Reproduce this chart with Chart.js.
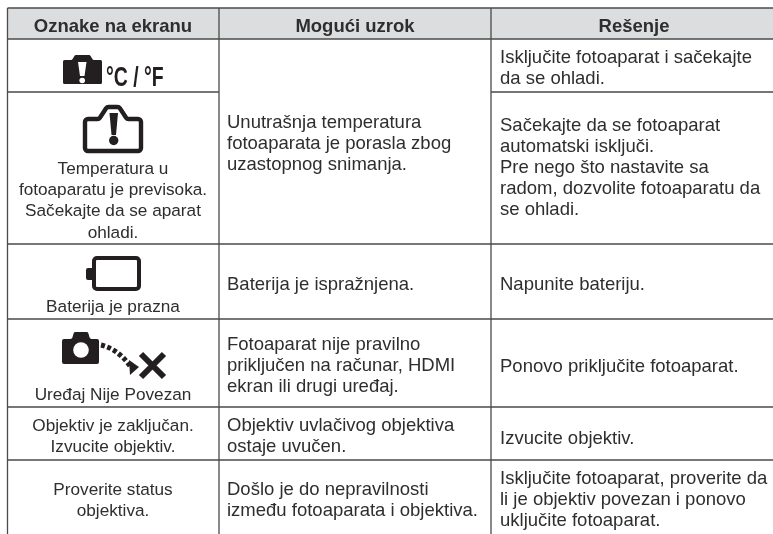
<!DOCTYPE html>
<html>
<head>
<meta charset="utf-8">
<script src="https://cdn.jsdelivr.net/npm/chart.js@4"></script>
<style>
html, body { margin: 0; padding: 0; background: #fff; }
canvas { display: block; }
</style>
</head>
<body>
<canvas id="tableChart" width="773" height="534"></canvas>
<script>
const headers = ['Oznake na ekranu', 'Mogući uzrok', 'Rešenje'];

const displayLines = [
    [],
    ['Temperatura u', 'fotoaparatu je previsoka.', 'Sačekajte da se aparat', 'ohladi.'],
    ['Baterija je prazna'],
    ['Uređaj Nije Povezan'],
    ['Objektiv je zaključan.', 'Izvucite objektiv.'],
    ['Proverite status', 'objektiva.']
];

const causeLines = [
    ['Unutrašnja temperatura', 'fotoaparata je porasla zbog', 'uzastopnog snimanja.'],
    ['Baterija je ispražnjena.'],
    ['Fotoaparat nije pravilno', 'priključen na računar, HDMI', 'ekran ili drugi uređaj.'],
    ['Objektiv uvlačivog objektiva', 'ostaje uvučen.'],
    ['Došlo je do nepravilnosti', 'između fotoaparata i objektiva.']
];

const solutionLines = [
    ['Isključite fotoaparat i sačekajte', 'da se ohladi.'],
    ['Sačekajte da se fotoaparat', 'automatski isključi.', 'Pre nego što nastavite sa', 'radom, dozvolite fotoaparatu da', 'se ohladi.'],
    ['Napunite bateriju.'],
    ['Ponovo priključite fotoaparat.'],
    ['Izvucite objektiv.'],
    ['Isključite fotoaparat, proverite da', 'li je objektiv povezan i ponovo', 'uključite fotoaparat.']
];

// layout of the table, in page units
const colEdges = [7.5, 219, 491, 773];
const rowEdges = [8, 39, 92, 244, 319, 407, 460];
const bottomEdge = 534;
const headerCenters = [113, 355, 634];
const headerBaseline = 31.5;
const col1Center = 113;
const col2Left = 227;
const col3Left = 500;
const lineGap = 21.2;
const col1Baselines = [0, 174, 311.7, 400, 431, 495];
const col2Baselines = [127.5, 290, 350, 431, 495];
const col3Baselines = [63, 130.5, 290, 372, 443.5, 484];

const textColor = '#2f2e2f';
const lineColor = '#4a4a4a';
const headerFill = '#dcddde';
const bodyFont = '18.5px "Liberation Sans", Arial, sans-serif';
const col1Font = '17.2px "Liberation Sans", Arial, sans-serif';
const headFont = 'bold 18.5px "Liberation Sans", Arial, sans-serif';

const tablePlugin = {
    id: 'tablePlugin',
    beforeDraw(chart) {
        const {ctx, scales: {x, y}} = chart;
        const px = v => x.getPixelForValue(v);
        const py = v => y.getPixelForValue(v);

        ctx.save();
        ctx.fillStyle = '#fff';
        ctx.fillRect(0, 0, chart.width, chart.height);
        ctx.fillStyle = headerFill;
        ctx.fillRect(px(colEdges[0]), py(rowEdges[0]), px(colEdges[3]) - px(colEdges[0]), py(rowEdges[1]) - py(rowEdges[0]));

        ctx.strokeStyle = lineColor;
        ctx.lineWidth = 1.3;
        rowEdges.forEach((r, i) => {
            // the cause cell spans the first two rows
            ctx.beginPath();
            ctx.moveTo(px(colEdges[0]), py(r));
            if (i === 2) {
                ctx.lineTo(px(colEdges[1]), py(r));
                ctx.moveTo(px(colEdges[2]), py(r));
            }
            ctx.lineTo(px(colEdges[3]), py(r));
            ctx.stroke();
        });
        colEdges.slice(0, 3).forEach(c => {
            ctx.beginPath();
            ctx.moveTo(px(c), py(rowEdges[0]));
            ctx.lineTo(px(c), py(bottomEdge));
            ctx.stroke();
        });

        ctx.fillStyle = textColor;
        ctx.textBaseline = 'alphabetic';
        ctx.font = headFont;
        ctx.textAlign = 'center';
        headers.forEach((h, i) => ctx.fillText(h, px(headerCenters[i]), py(headerBaseline)));

        ctx.font = col1Font;
        displayLines.forEach((lines, i) => {
            lines.forEach((t, j) => ctx.fillText(t, px(col1Center), py(col1Baselines[i] + j * lineGap)));
        });
        ctx.font = bodyFont;
        ctx.textAlign = 'left';
        causeLines.forEach((lines, i) => {
            lines.forEach((t, j) => ctx.fillText(t, px(col2Left), py(col2Baselines[i] + j * lineGap)));
        });
        solutionLines.forEach((lines, i) => {
            lines.forEach((t, j) => ctx.fillText(t, px(col3Left), py(col3Baselines[i] + j * lineGap)));
        });

        drawIcons(ctx, px, py);
        ctx.restore();
    }
};

function roundedPath(ctx, pts, r) {
    ctx.beginPath();
    const n = pts.length;
    ctx.moveTo((pts[0][0] + pts[n - 1][0]) / 2, (pts[0][1] + pts[n - 1][1]) / 2);
    for (let i = 0; i < n; i++) {
        const b = pts[(i + 1) % n];
        ctx.arcTo(pts[i][0], pts[i][1], (pts[i][0] + b[0]) / 2, (pts[i][1] + b[1]) / 2, r);
    }
    ctx.closePath();
}

function drawIcons(ctx, px, py) {
    const dark = '#231f20';
    ctx.fillStyle = dark;
    ctx.strokeStyle = dark;
    ctx.lineCap = 'butt';
    ctx.lineJoin = 'round';

    // filled warning camera
    roundedPath(ctx, [[px(63), py(60)], [px(72), py(60)], [px(75), py(55)], [px(90), py(55)], [px(93), py(60)], [px(102), py(60)], [px(102), py(84)], [px(63), py(84)]], 1.5);
    ctx.fill();
    ctx.fillStyle = '#fff';
    ctx.beginPath();
    ctx.moveTo(px(78), py(62));
    ctx.lineTo(px(86.5), py(62));
    ctx.lineTo(px(84.5), py(76));
    ctx.lineTo(px(80), py(76));
    ctx.closePath();
    ctx.fill();
    ctx.beginPath();
    ctx.arc(px(82.2), py(80.5), 2.8, 0, Math.PI * 2);
    ctx.fill();

    // temperature units, squeezed like the camera display
    ctx.fillStyle = dark;
    ctx.save();
    ctx.translate(px(106), py(86));
    ctx.scale(0.72, 1);
    ctx.font = 'bold 27px "Liberation Sans", Arial, sans-serif';
    ctx.textAlign = 'left';
    ctx.fillText('°C / °F', 0, 0);
    ctx.restore();

    // outlined warning camera
    ctx.lineWidth = 4.4;
    roundedPath(ctx, [[px(85), py(119)], [px(99), py(119)], [px(107), py(107)], [px(119), py(107)], [px(127), py(119)], [px(141), py(119)], [px(141), py(151)], [px(85), py(151)]], 3);
    ctx.stroke();
    ctx.beginPath();
    ctx.moveTo(px(109.5), py(113));
    ctx.lineTo(px(118), py(113));
    ctx.lineTo(px(116), py(135));
    ctx.lineTo(px(111.5), py(135));
    ctx.closePath();
    ctx.fill();
    ctx.beginPath();
    ctx.arc(px(113.7), py(140.5), 4.7, 0, Math.PI * 2);
    ctx.fill();

    // battery
    ctx.lineWidth = 4;
    roundedPath(ctx, [[px(94), py(258)], [px(139), py(258)], [px(139), py(289)], [px(94), py(289)]], 3);
    ctx.stroke();
    ctx.beginPath();
    ctx.roundRect(px(86), py(268), 8, 12, 2);
    ctx.fill();

    // camera, dotted arrow and cross
    roundedPath(ctx, [[px(62), py(339)], [px(72), py(339)], [px(74), py(332)], [px(88), py(332)], [px(90), py(339)], [px(99), py(339)], [px(99), py(364)], [px(62), py(364)]], 2);
    ctx.fill();
    ctx.fillStyle = '#fff';
    ctx.beginPath();
    ctx.arc(px(81), py(350), 7.8, 0, Math.PI * 2);
    ctx.fill();
    ctx.fillStyle = dark;
    ctx.lineWidth = 5;
    ctx.setLineDash([4, 2.5]);
    ctx.beginPath();
    ctx.moveTo(px(101), py(345));
    ctx.quadraticCurveTo(px(118), py(349), px(130), py(366));
    ctx.stroke();
    ctx.setLineDash([]);
    ctx.beginPath();
    ctx.moveTo(px(129), py(360));
    ctx.lineTo(px(139), py(367));
    ctx.lineTo(px(130), py(375));
    ctx.closePath();
    ctx.fill();
    ctx.lineWidth = 6;
    ctx.beginPath();
    ctx.moveTo(px(141), py(354));
    ctx.lineTo(px(164), py(377));
    ctx.moveTo(px(164), py(354));
    ctx.lineTo(px(141), py(377));
    ctx.stroke();
}

new Chart(document.getElementById('tableChart').getContext('2d'), {
    type: 'scatter',
    data: { datasets: [] },
    options: {
        responsive: false,
        animation: false,
        layout: { padding: 0 },
        plugins: { legend: { display: false }, tooltip: { enabled: false } },
        scales: {
            x: { type: 'linear', min: 0, max: 773, display: false },
            y: { type: 'linear', min: 0, max: 534, reverse: true, display: false }
        }
    },
    plugins: [tablePlugin]
});
</script>
</body>
</html>
